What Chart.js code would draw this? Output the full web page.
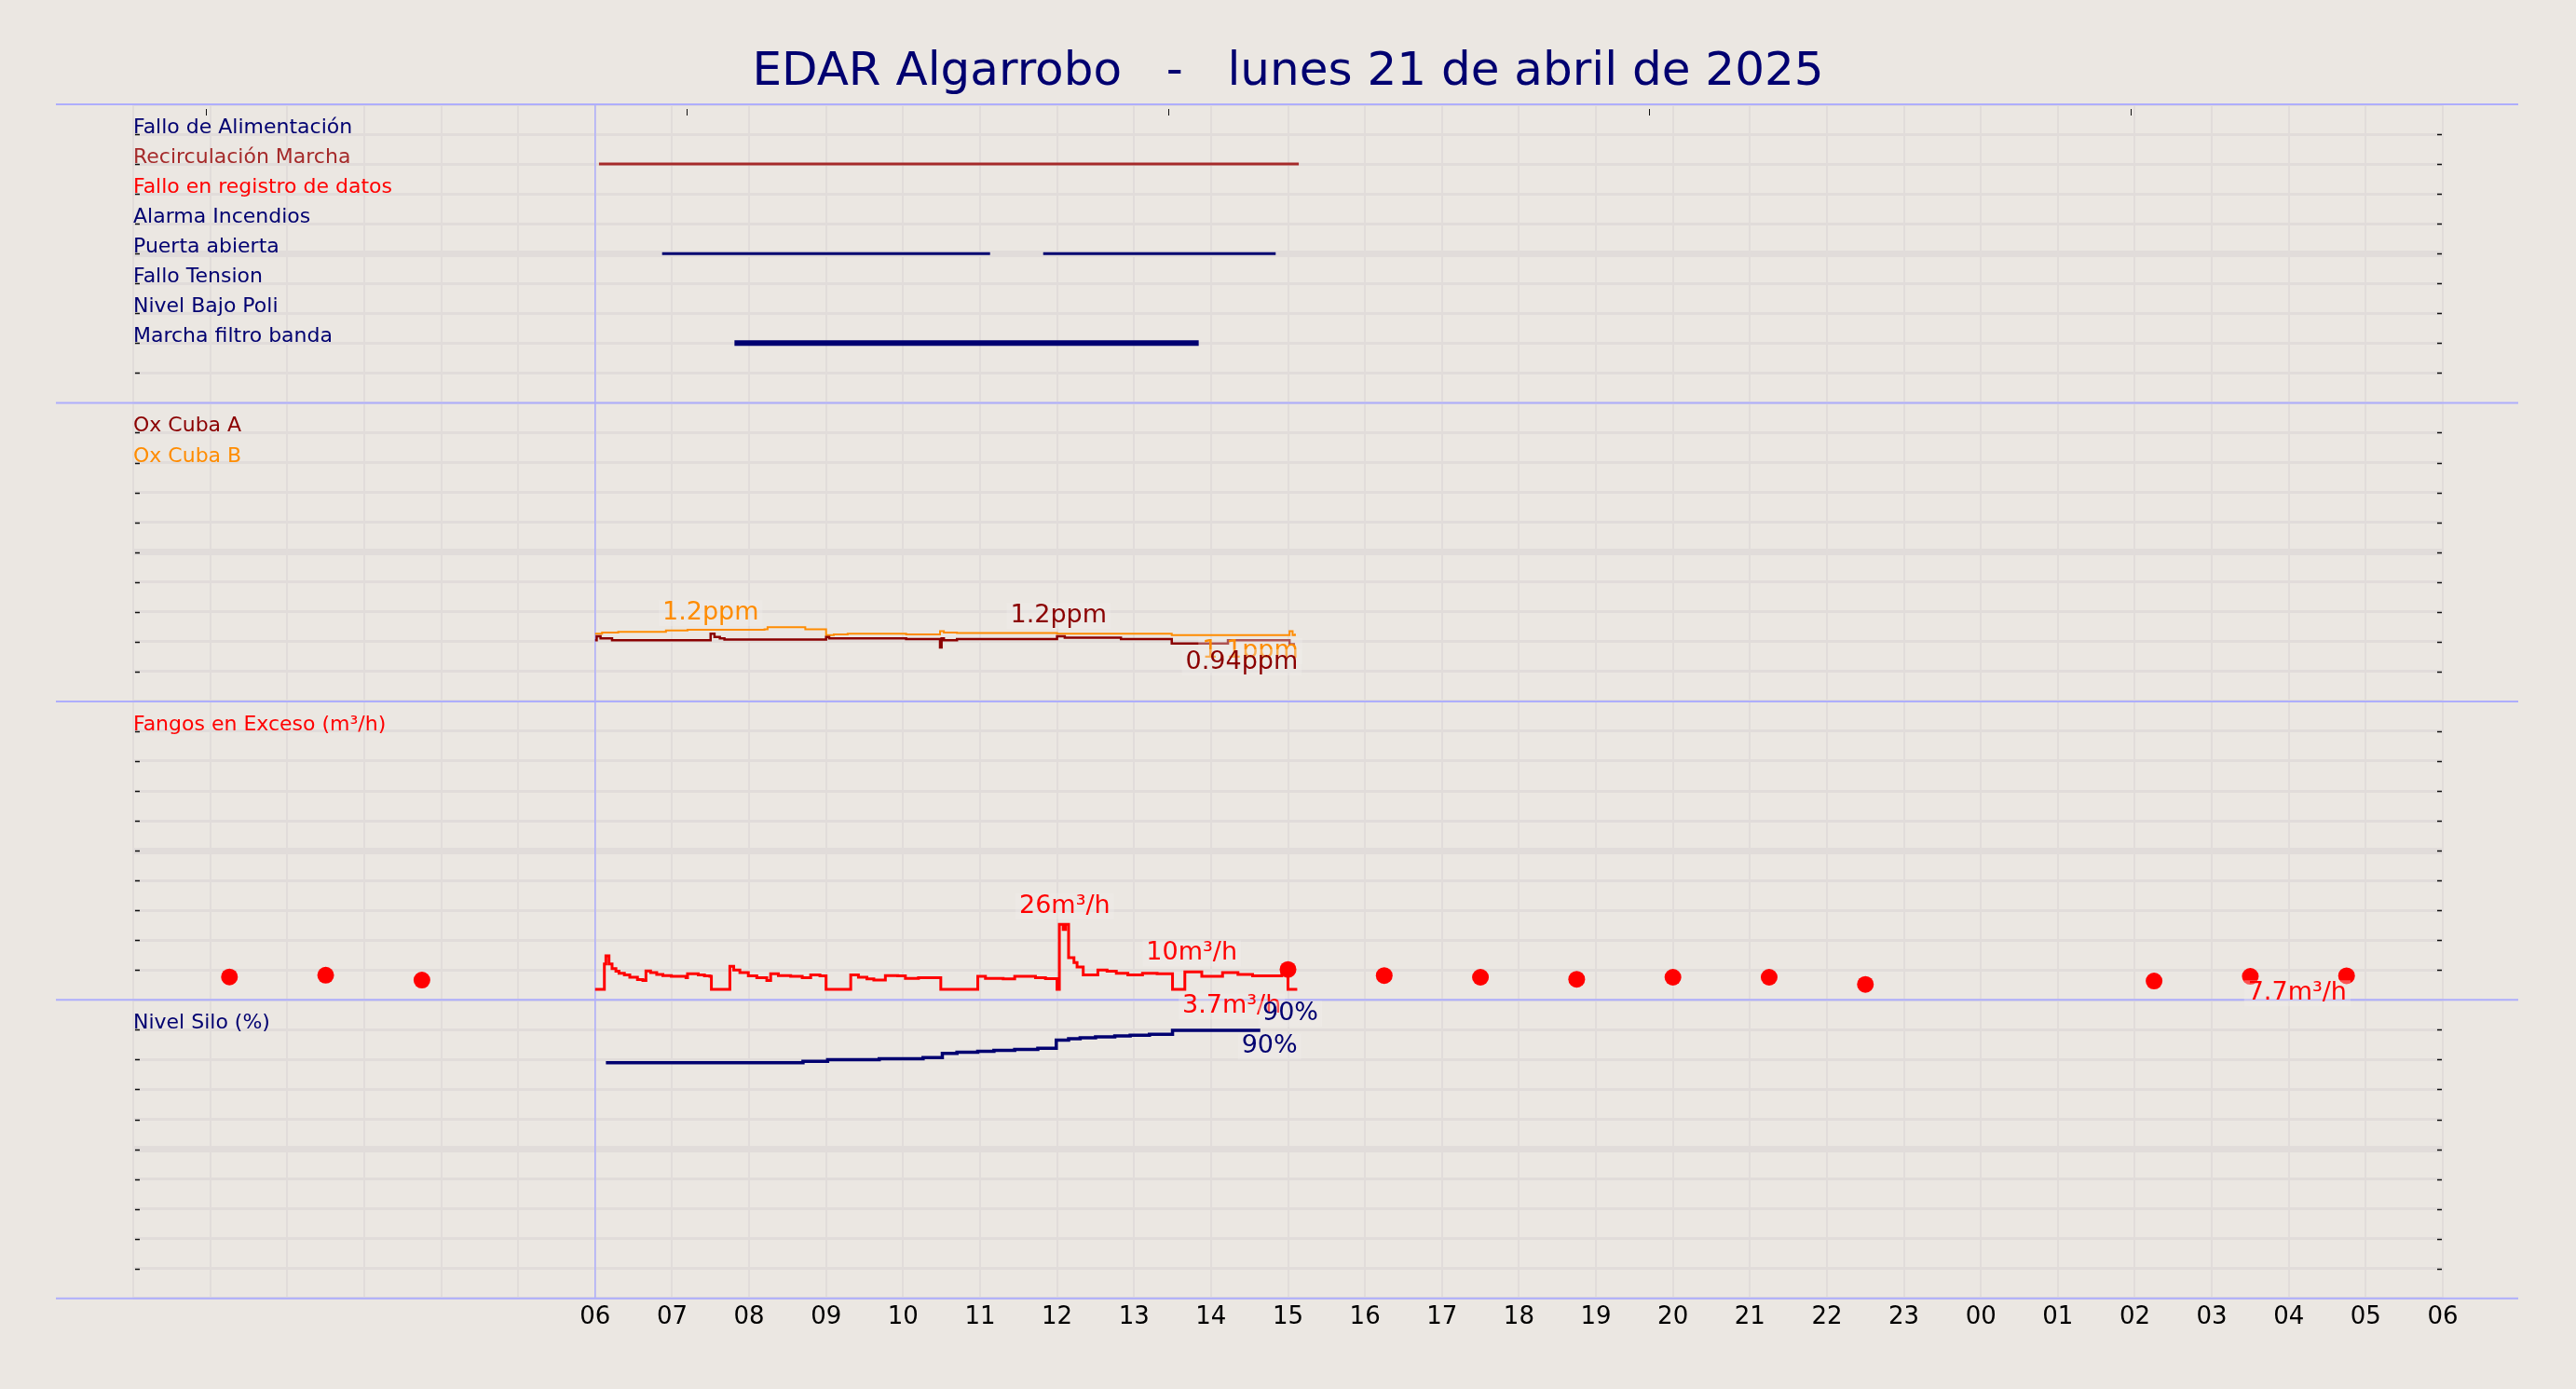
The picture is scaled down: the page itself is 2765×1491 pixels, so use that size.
<!DOCTYPE html>
<html>
<head>
<meta charset="utf-8">
<script src="https://cdn.jsdelivr.net/npm/chart.js@4.4.1/dist/chart.umd.min.js"></script>
<style>
html, body { margin: 0; padding: 0; background: #ebe7e2; }
canvas { display: block; }
</style>
</head>
<body>
<canvas id="chart" width="2765" height="1491"></canvas>
<script>
// Title and time axis (hours since 00:00 on the 21st, up to 06:00 on the 22nd)
const titleText = 'EDAR Algarrobo   -   lunes 21 de abril de 2025';
const hourLabels = ['', '', '', '', '', '',
    '06', '07', '08', '09', '10', '11', '12', '13', '14', '15', '16', '17',
    '18', '19', '20', '21', '22', '23', '00', '01', '02', '03', '04', '05', '06'];
const topTickHours = [0.94, 7.19, 13.44, 19.69, 25.94];

// Alarm panel (top to bottom)
const alarmNames = ['Fallo de Alimentación', 'Recirculación Marcha', 'Fallo en registro de datos',
    'Alarma Incendios', 'Puerta abierta', 'Fallo Tension', 'Nivel Bajo Poli', 'Marcha filtro banda'];
const recirculacionOn = [[6.05, 15.14]];
const puertaAbiertaOn = [[6.87, 11.13], [11.82, 14.84]];
const filtroBandaOn = [[7.81, 13.84]];

// Oxygen (ppm), change points [hour, value]
const oxCubaA = [[6.00, 1.00], [6.02, 1.06], [6.07, 1.03], [6.22, 1.00], [7.50, 1.10], [7.55, 1.05],
    [7.62, 1.03], [7.68, 1.01], [9.00, 1.05], [9.04, 1.03], [10.04, 1.02], [10.48, 0.89], [10.50, 1.03],
    [10.53, 1.00], [10.70, 1.02], [12.00, 1.06], [12.10, 1.04], [12.83, 1.02], [13.49, 0.95],
    [14.22, 1.00], [15.02, 0.94], [15.09, 0.94]];
const oxCubaB = [[6.00, 1.10], [6.09, 1.12], [6.30, 1.13], [6.92, 1.15], [7.20, 1.16], [8.20, 1.17],
    [8.24, 1.20], [8.73, 1.17], [9.00, 1.08], [9.10, 1.09], [9.28, 1.10], [10.04, 1.09], [10.48, 1.14],
    [10.53, 1.12], [10.70, 1.11], [12.00, 1.10], [13.49, 1.08], [15.02, 1.14], [15.06, 1.08], [15.09, 1.10]];

// Excess sludge (m3/h)
const fangos = [[6.00, 3.7], [6.12, 12.5], [6.14, 15.4], [6.18, 12.5], [6.22, 10.9], [6.27, 10.0],
    [6.31, 9.3], [6.38, 8.7], [6.45, 7.9], [6.55, 7.1], [6.62, 6.8], [6.66, 10.1], [6.72, 9.5],
    [6.80, 8.9], [6.88, 8.5], [6.99, 8.2], [7.18, 7.7], [7.20, 9.1], [7.34, 8.7], [7.42, 8.4],
    [7.49, 8.2], [7.51, 3.7], [7.75, 11.7], [7.80, 10.4], [7.88, 9.5], [7.99, 8.4], [8.10, 7.7],
    [8.23, 6.8], [8.28, 9.1], [8.38, 8.5], [8.54, 8.2], [8.69, 7.7], [8.80, 8.7], [8.92, 8.4],
    [9.00, 3.7], [9.32, 8.7], [9.42, 7.9], [9.53, 7.3], [9.62, 6.9], [9.77, 8.5], [9.93, 8.4],
    [10.03, 7.5], [10.20, 7.7], [10.49, 3.7], [10.97, 8.2], [11.07, 7.5], [11.30, 7.3], [11.45, 8.2],
    [11.72, 7.7], [11.85, 7.4], [12.00, 3.7], [12.03, 26.3], [12.08, 24.5], [12.11, 26.3],
    [12.15, 14.7], [12.22, 13.0], [12.26, 11.5], [12.34, 8.7], [12.53, 10.4], [12.65, 10.0],
    [12.77, 9.3], [12.92, 8.7], [13.11, 9.3], [13.30, 9.1], [13.50, 3.7], [13.66, 9.8], [13.88, 8.2],
    [14.15, 9.5], [14.35, 8.9], [14.54, 8.4], [14.92, 9.1], [15.00, 3.7], [15.12, 3.7]];
const fangosDotHours = [1.25, 2.5, 3.75, 15.0, 16.25, 17.5, 18.75, 20.0, 21.25, 22.5, 26.25, 27.5, 28.75];
const fangosDotValues = [8.0, 8.6, 6.9, 10.6, 8.5, 7.9, 7.2, 7.9, 7.9, 5.4, 6.6, 8.2, 8.4];

// Silo level (%)
const nivelSilo = [[6.14, 79.0], [8.70, 79.4], [9.02, 80.0], [9.69, 80.3], [10.26, 80.7], [10.51, 82.1],
    [10.70, 82.5], [10.97, 82.8], [11.18, 83.1], [11.45, 83.4], [11.75, 83.8], [11.99, 86.5],
    [12.15, 87.0], [12.30, 87.3], [12.50, 87.6], [12.75, 87.9], [12.95, 88.2], [13.20, 88.5],
    [13.50, 89.8], [14.64, 89.8]];

// Value labels on the curves
const annotTexts = ['1.2ppm', '1.2ppm', '1.1ppm', '0.94ppm', '26m³/h', '10m³/h', '3.7m³/h', '90%', '90%', '7.7m³/h'];
const annotHours = [7.50, 12.02, 14.51, 14.40, 12.10, 13.75, 14.27, 15.03, 14.76, 28.11];
const annotValues = [1.417, 1.374, 0.831, 0.66, 32.7, 16.2, -2.3, 95.3, 84.4, 2.3];
const annotAxes = ['yOx', 'yOx', 'yOx', 'yOx', 'yFangos', 'yFangos', 'yFangos', 'ySilo', 'ySilo', 'yFangos'];

// Styles
const font = 'DejaVu Sans';
const navy = '#000070';
const gridColor = '#e1dcda';
const sepColor = '#aeaefc';
const alarmColors = [navy, '#a52a2a', '#ff0000', navy, navy, navy, navy, navy];
const annotColors = ['#ff8c00', '#8b0000', '#ff8c00', '#8b0000', '#ff0000', '#ff0000', '#ff0000', navy, navy, '#ff0000'];

function alarmRow(name) {
    return 9 - alarmNames.indexOf(name);
}

function periodsToPoints(periods, row) {
    const pts = [];
    periods.forEach((p, i) => {
        if (i > 0) pts.push({ x: (periods[i - 1][1] + p[0]) / 2, y: null });
        pts.push({ x: p[0], y: row }, { x: p[1], y: row });
    });
    return pts;
}

const toXY = arr => arr.map(p => ({ x: p[0], y: p[1] }));

const datasets = [
    { data: periodsToPoints(recirculacionOn, alarmRow('Recirculación Marcha')), yAxisID: 'yAlarm',
      borderColor: '#a52a2a', borderWidth: 3 },
    { data: periodsToPoints(puertaAbiertaOn, alarmRow('Puerta abierta')), yAxisID: 'yAlarm',
      borderColor: navy, borderWidth: 3, spanGaps: false },
    { data: periodsToPoints(filtroBandaOn, alarmRow('Marcha filtro banda')), yAxisID: 'yAlarm',
      borderColor: navy, borderWidth: 6 },
    { data: toXY(oxCubaA), yAxisID: 'yOx', borderColor: '#8b0000', borderWidth: 2.5, stepped: true },
    { data: toXY(oxCubaB), yAxisID: 'yOx', borderColor: '#ff8c00', borderWidth: 2, stepped: true },
    { data: toXY(fangos), yAxisID: 'yFangos', borderColor: '#ff0000', borderWidth: 3, stepped: true },
    { data: fangosDotHours.map((h, i) => ({ x: h, y: fangosDotValues[i] })), yAxisID: 'yFangos',
      showLine: false, pointRadius: 9, pointBackgroundColor: '#ff0000', pointBorderWidth: 0 },
    { data: toXY(nivelSilo), yAxisID: 'ySilo', borderColor: navy, borderWidth: 3.5, stepped: true }
];

function panelAxis(min, max) {
    return {
        type: 'linear',
        position: 'left',
        stack: 'panels',
        stackWeight: 1,
        min: min,
        max: max,
        afterBuildTicks: s => {
            s.ticks = Array.from({ length: 11 }, (_, i) => ({ value: min + i * (max - min) / 10 }));
        },
        ticks: { display: false },
        grid: { color: gridColor, lineWidth: c => (c.index === 5 ? 7 : 3), drawTicks: false },
        border: { display: false }
    };
}

function rowPixel(scale, idx) {
    return scale.getPixelForValue(scale.min + idx * (scale.max - scale.min) / 10);
}

// Panel separators, tick dashes, series names and value labels
const panelDecor = {
    id: 'panelDecor',
    beforeDatasetsDraw(chart) {
        const { ctx, chartArea, scales } = chart;
        const panels = [scales.yAlarm, scales.yOx, scales.yFangos, scales.ySilo];
        ctx.save();
        // vertical marker at 06:00
        ctx.strokeStyle = sepColor;
        ctx.lineWidth = 1.5;
        const x6 = scales.x.getPixelForValue(6);
        ctx.beginPath();
        ctx.moveTo(x6, chartArea.top);
        ctx.lineTo(x6, chartArea.bottom);
        ctx.stroke();
        // panel separators
        ctx.lineWidth = 2;
        const edges = [chartArea.top].concat(panels.map(p => p.bottom));
        edges.forEach(y => {
            ctx.beginPath();
            ctx.moveTo(60, y);
            ctx.lineTo(2703, y);
            ctx.stroke();
        });
        // small dashes on each grid row
        ctx.strokeStyle = '#111';
        ctx.lineWidth = 1.5;
        panels.forEach(p => {
            for (let i = 1; i < 10; i++) {
                const y = Math.round(rowPixel(p, i)) + 0.5;
                ctx.beginPath();
                ctx.moveTo(chartArea.left + 2, y);
                ctx.lineTo(chartArea.left + 7, y);
                ctx.moveTo(chartArea.right - 6, y);
                ctx.lineTo(chartArea.right - 1, y);
                ctx.stroke();
            }
        });
        // top ticks
        ctx.lineWidth = 1;
        topTickHours.forEach(h => {
            const x = Math.round(scales.x.getPixelForValue(h)) + 0.5;
            ctx.beginPath();
            ctx.moveTo(x, chartArea.top + 5);
            ctx.lineTo(x, chartArea.top + 12);
            ctx.stroke();
        });
        ctx.restore();
    },
    afterDatasetsDraw(chart) {
        const { ctx, chartArea, scales } = chart;
        ctx.save();
        ctx.textAlign = 'left';
        ctx.textBaseline = 'alphabetic';
        ctx.font = '22px "' + font + '"';
        alarmNames.forEach((name, i) => {
            ctx.fillStyle = alarmColors[i];
            ctx.fillText(name, chartArea.left, scales.yAlarm.getPixelForValue(alarmRow(name)) - 1);
        });
        ctx.fillStyle = '#8b0000';
        ctx.fillText('Ox Cuba A', chartArea.left, rowPixel(scales.yOx, 9) - 1);
        ctx.fillStyle = '#ff8c00';
        ctx.fillText('Ox Cuba B', chartArea.left, rowPixel(scales.yOx, 8) - 1);
        ctx.fillStyle = '#ff0000';
        ctx.fillText('Fangos en Exceso (m³/h)', chartArea.left, rowPixel(scales.yFangos, 9) - 1);
        ctx.fillStyle = navy;
        ctx.fillText('Nivel Silo (%)', chartArea.left, rowPixel(scales.ySilo, 9) - 1);

        ctx.font = '27px "' + font + '"';
        ctx.textAlign = 'center';
        ctx.textBaseline = 'middle';
        annotTexts.forEach((t, i) => {
            const x = scales.x.getPixelForValue(annotHours[i]);
            const y = scales[annotAxes[i]].getPixelForValue(annotValues[i]);
            const w = ctx.measureText(t).width + 8;
            ctx.fillStyle = 'rgba(241, 238, 234, 0.35)';
            ctx.fillRect(x - w / 2, y - 14, w, 28);
            ctx.fillStyle = annotColors[i];
            ctx.fillText(t, x, y);
        });
        ctx.restore();
    }
};

Chart.defaults.font.family = font;

new Chart(document.getElementById('chart'), {
    type: 'line',
    data: { datasets: datasets },
    options: {
        responsive: false,
        animation: false,
        elements: { point: { radius: 0 }, line: { tension: 0, fill: false } },
        layout: { padding: { left: 143, right: 143, top: 0, bottom: 56 } },
        plugins: {
            legend: { display: false },
            tooltip: { enabled: false },
            title: {
                display: true,
                text: titleText,
                color: navy,
                font: { family: font, size: 50, weight: 'normal' },
                padding: { top: 48, bottom: 4 }
            }
        },
        scales: {
            x: {
                type: 'linear',
                min: 0,
                max: 30,
                grid: { color: gridColor, lineWidth: 2, drawTicks: false },
                border: { display: false },
                ticks: {
                    stepSize: 1,
                    autoSkip: false,
                    maxRotation: 0,
                    padding: 5,
                    color: '#000',
                    font: { family: font, size: 26 },
                    callback: v => hourLabels[v] ?? ''
                }
            },
            ySilo: panelAxis(0, 100),
            yFangos: panelAxis(0, 104),
            yOx: panelAxis(0.06, 4.65),
            yAlarm: panelAxis(0, 10)
        }
    },
    plugins: [panelDecor]
});
</script>
</body>
</html>
